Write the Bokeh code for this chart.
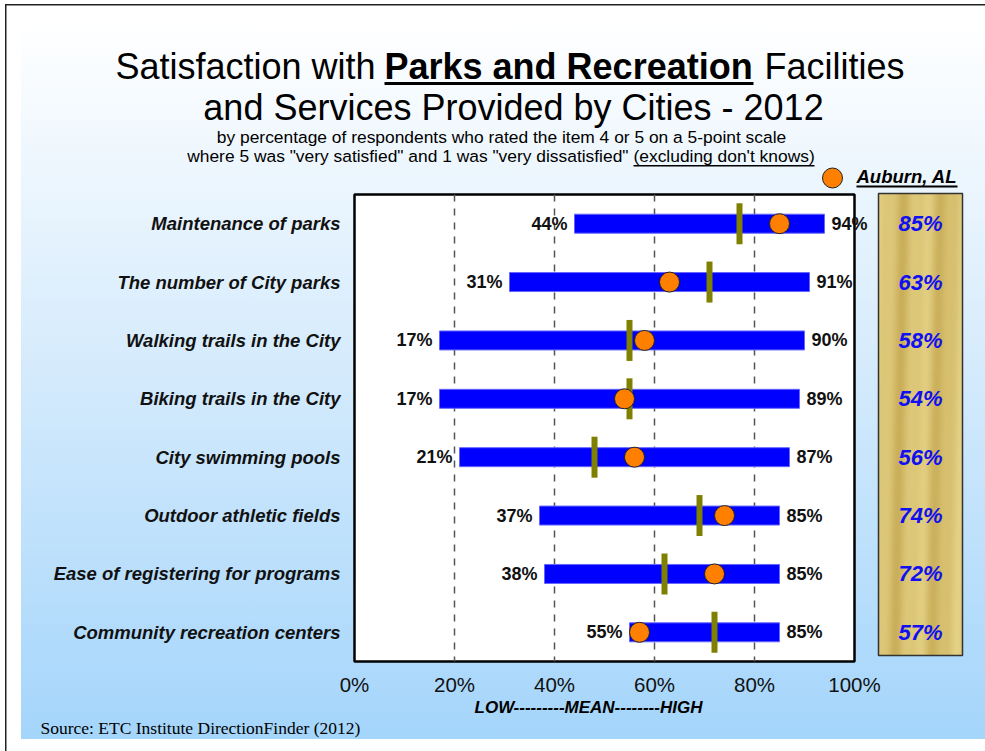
import numpy as np
from bokeh.plotting import figure
from bokeh.models import Range1d, FixedTicker, PrintfTickFormatter, ColumnDataSource
from bokeh.core.properties import value
from bokeh.embed import file_html
from bokeh.resources import INLINE

# ---------------- data ----------------
CATEGORIES = ["Maintenance of parks", "The number of City parks",
              "Walking trails in the City", "Biking trails in the City",
              "City swimming pools", "Outdoor athletic fields",
              "Ease of registering for programs", "Community recreation centers"]
LOW = [44, 31, 17, 17, 21, 37, 38, 55]
HIGH = [94, 91, 90, 89, 87, 85, 85, 85]
MEAN = [77, 71, 55, 55, 48, 69, 62, 72]
AUBURN = [85, 63, 58, 54, 56, 74, 72, 57]
X_TICKS = [0, 20, 40, 60, 80, 100]
GRID_TICKS = [20, 40, 60, 80]

# ---------------- layout (page pixels) ----------------
PAGE_W, PAGE_H = 985, 751
FRAME_LEFT, FRAME_RIGHT = 352, 964
FRAME_TOP, FRAME_BOTTOM = 192, 663
PX_LEFT = 354.0      # page x of 0 %
PX_PER_PCT = 5.0
BOX_TOP = 194.0      # page y of plot box top
PX_PER_ROW = 58.375
Y_TOP = -0.5 - (BOX_TOP - FRAME_TOP) / PX_PER_ROW
Y_BOTTOM = Y_TOP + (FRAME_BOTTOM - FRAME_TOP) / PX_PER_ROW
X_START = (FRAME_LEFT - PX_LEFT) / PX_PER_PCT
X_END = (FRAME_RIGHT - PX_LEFT) / PX_PER_PCT


def dx(px):
    return (px - PX_LEFT) / PX_PER_PCT


def dy(py):
    return (py - FRAME_TOP) / PX_PER_ROW + Y_TOP


FONT = "Liberation Sans"
n = len(CATEGORIES)
rows = list(range(n))

src = ColumnDataSource(dict(
    row=rows, low=LOW, high=HIGH, mean=MEAN, auburn=AUBURN,
    low_lbl=[f"{v}%" for v in LOW],
    high_lbl=[f"{v}%" for v in HIGH],
    aub_lbl=[f"{v}%" for v in AUBURN],
))

p = figure(width=PAGE_W, height=PAGE_H, title=None,
           x_range=Range1d(X_START, X_END), y_range=Range1d(Y_BOTTOM, Y_TOP),
           output_backend="svg", toolbar_location=None,
           min_border_left=FRAME_LEFT, min_border_right=PAGE_W - FRAME_RIGHT,
           min_border_top=FRAME_TOP, min_border_bottom=PAGE_H - FRAME_BOTTOM,
           background_fill_color=None, border_fill_color=None,
           outline_line_color=None,
           styles={"background": (
               "linear-gradient(#222222, #222222) 5px 4px / 1.5px 100% no-repeat, "
               "linear-gradient(#222222, #222222) 5px 4px / 100% 1.5px no-repeat, "
               "linear-gradient(to bottom, #ffffff 0%, #d3eafc 50%, #a4d5fb 100%) "
               "21px 21px / calc(100% - 21px) 718px no-repeat, #ffffff")})
p.xgrid.visible = False
p.ygrid.visible = False


def txt(x, y_base, s, size, align="left", style="normal", font=FONT,
        color="#000000", k=0.36):
    # y_base is the wanted page baseline; text is anchored at its middle
    sz = float(size.rstrip("px"))
    p.text(x=[x], y=[dy(y_base - k * sz)], text=[s], text_align=align,
           text_baseline="middle", text_font=value(font), text_font_style=style,
           text_font_size=size, text_color=color, level="overlay")


def uline(x0, x1, y0, y1):
    p.quad(left=[x0], right=[x1], top=[y0], bottom=[y1], fill_color="#000000",
           line_color=None, level="overlay")


# plot box
p.quad(left=[X_TICKS[0]], right=[X_TICKS[-1]], top=[-0.5], bottom=[n - 0.5],
       fill_color="white", line_color="black", line_width=2.5)

# dashed grid lines
p.segment(x0=GRID_TICKS, x1=GRID_TICKS, y0=[-0.5] * len(GRID_TICKS),
          y1=[n - 0.5] * len(GRID_TICKS), line_color="#555555",
          line_width=1.5, line_dash="7 7")

# range bars
p.hbar(y="row", left="low", right="high", height=0.325, source=src,
       fill_color="#0000FF", line_color="#6666FF", line_width=1)

# mean markers
p.rect(x="mean", y="row", width=6, height=41, width_units="screen",
       height_units="screen", fill_color="#808000", line_color=None, source=src)

# Auburn dots
p.scatter(x="auburn", y="row", size=20, marker="circle", fill_color="#FF8000",
          line_color="#222222", line_width=1, source=src)

# low / high labels
p.text(x="low", y="row", text="low_lbl", x_offset=-7, text_align="right",
       text_baseline="middle", text_font=value(FONT), text_font_style="bold",
       text_font_size="18px", text_color="#111111", source=src)
p.text(x="high", y="row", text="high_lbl", x_offset=7, text_align="left",
       text_baseline="middle", text_font=value(FONT), text_font_style="bold",
       text_font_size="18px", text_color="#111111", source=src)

# gold panel
H, W = 240, 42
yy, xx = np.mgrid[0:H, 0:W]
t = xx / W + 0.10 * yy / H
s = 0.5 + 0.26 * np.sin(2 * np.pi * (t * 2.1 + 0.15)) + 0.12 * np.sin(2 * np.pi * (t * 4.7 + 0.4))
s = np.clip(s, 0, 1)
dark = np.array([198, 170, 84])
light = np.array([234, 216, 142])
img = np.empty((H, W), dtype=np.uint32)
view = img.view(dtype=np.uint8).reshape((H, W, 4))
for k in range(3):
    view[:, :, k] = (dark[k] + s * (light[k] - dark[k])).astype(np.uint8)
view[:, :, 3] = 255
p.image_rgba(image=[img], x=dx(878), y=dy(193), dw=dx(962) - dx(878),
             dh=dy(655) - dy(193), level="overlay")
p.quad(left=[dx(878)], right=[dx(962)], top=[dy(193)], bottom=[dy(655)],
       fill_color=None, line_color="#333333", line_width=1.5, level="overlay")
p.text(x=dx(920), y="row", text="aub_lbl", text_align="center",
       text_baseline="middle", text_font=value(FONT),
       text_font_style="bold italic", text_font_size="22px",
       text_color="#1010F0", source=src, level="overlay")

# legend
p.scatter(x=[dx(832)], y=[dy(177.5)], size=20, marker="circle",
          fill_color="#FF8000", line_color="#222222", line_width=1, level="overlay")
txt(dx(856), 183, "Auburn, AL", "18.5px", style="bold italic")
uline(dx(856), dx(957), dy(185), dy(187))

# title
txt(dx(375), 79, "Satisfaction with", "36px", align="right")
txt(dx(384), 79, "Parks and Recreation", "36px", style="bold")
txt(dx(764), 79, "Facilities", "36px")
uline(dx(384), dx(753), dy(81.5), dy(84.5))
txt(dx(513), 120, "and Services Provided by Cities - 2012", "36px", align="center")
txt(dx(501), 143, "by percentage of respondents who rated the item 4 or 5 on a 5-point scale",
    "17.4px", align="center")
txt(dx(628), 162, 'where 5 was "very satisfied" and 1 was "very dissatisfied"',
    "17.4px", align="right")
txt(dx(633), 162, "(excluding don't knows)", "17.4px")
uline(dx(633), dx(814), dy(164.5), dy(166))

# axis caption and source
txt(dx(588), 713, "LOW---------MEAN--------HIGH", "17px", align="center",
    style="bold italic")
txt(dx(40), 733, "Source:  ETC Institute DirectionFinder (2012)", "17.5px",
    font="Liberation Serif", k=0.33)

# axes
p.xaxis.ticker = FixedTicker(ticks=X_TICKS)
p.xaxis.formatter = PrintfTickFormatter(format="%d%%")
p.xaxis.axis_line_color = None
p.xaxis.major_tick_line_color = None
p.xaxis.minor_tick_line_color = None
p.xaxis.major_tick_out = 0
p.xaxis.major_tick_in = 0
p.xaxis.major_label_standoff = 9
p.xaxis.major_label_text_font = FONT
p.xaxis.major_label_text_font_size = "20.5px"
p.xaxis.major_label_text_color = "#111111"

p.yaxis.ticker = FixedTicker(ticks=rows)
p.yaxis.major_label_overrides = {i: c for i, c in enumerate(CATEGORIES)}
p.yaxis.axis_line_color = None
p.yaxis.major_tick_line_color = None
p.yaxis.minor_tick_line_color = None
p.yaxis.major_tick_out = 0
p.yaxis.major_tick_in = 0
p.yaxis.major_label_standoff = 12
p.yaxis.major_label_text_font = FONT
p.yaxis.major_label_text_font_style = "bold italic"
p.yaxis.major_label_text_font_size = "18.5px"
p.yaxis.major_label_text_color = "#111111"

open("out.html", "w").write(file_html(p, INLINE))
